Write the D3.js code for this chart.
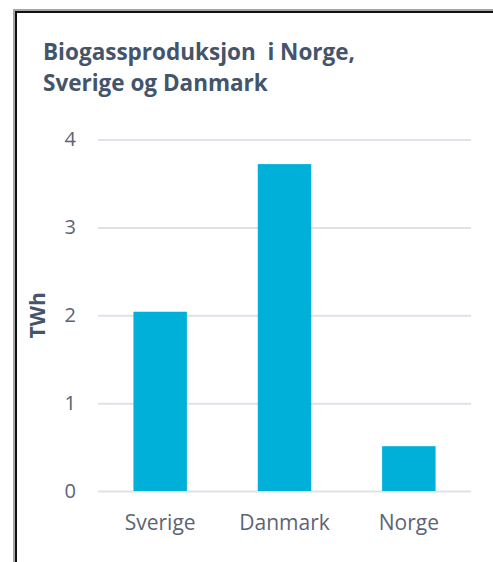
<!DOCTYPE html>
<html>
<head>
<meta charset="utf-8">
<script src="https://cdn.jsdelivr.net/npm/d3@7"></script>
<style>
body { margin: 0; background: #fff; }
svg { display: block; font-family: "Open Sans", Lato, sans-serif; }
.tick text { fill: #5b6474; }
</style>
</head>
<body>
<div id="chart"></div>
<script>
var categories = ["Sverige", "Danmark", "Norge"];
var values = [2.04, 3.72, 0.51];
var yTicks = [0, 1, 2, 3, 4];
var titleLines = ["Biogassproduksjon  i Norge,", "Sverige og Danmark"];
var yLabel = "TWh";

var W = 493, H = 562;
var margin = {top: 139.5, right: 22, bottom: 71, left: 98};

var svg = d3.select("#chart").append("svg")
    .attr("width", W)
    .attr("height", H);

// frame: grey shadow + black line on left and top
svg.append("path")
    .attr("d", "M14,562V10H493")
    .attr("fill", "none")
    .attr("stroke", "#a6a6a6")
    .attr("stroke-width", 2);
svg.append("path")
    .attr("d", "M16,562V12H493")
    .attr("fill", "none")
    .attr("stroke", "#111")
    .attr("stroke-width", 2);

var x = d3.scaleBand()
    .domain(categories)
    .range([margin.left, W - margin.right])
    .paddingInner(0.57)
    .paddingOuter(0.285);

var y = d3.scaleLinear()
    .domain([0, 4])
    .range([H - margin.bottom, margin.top]);

// gridlines + y labels
var yAxis = d3.axisLeft(y)
    .tickValues(yTicks)
    .tickSize(-(W - margin.right - margin.left))
    .tickPadding(22)
    .tickFormat(d3.format("d"));

var gy = svg.append("g")
    .attr("transform", "translate(" + margin.left + ",0)")
    .call(yAxis);
gy.select(".domain").remove();
gy.selectAll(".tick line")
    .attr("stroke", "#dde2ea")
    .attr("stroke-width", 2);
gy.selectAll(".tick text")
    .attr("font-family", "Open Sans")
    .attr("font-size", 20);

svg.append("g").selectAll("rect")
    .data(values)
    .join("rect")
    .attr("x", function(d, i) { return x(categories[i]); })
    .attr("width", x.bandwidth())
    .attr("y", function(d) { return y(d); })
    .attr("height", function(d) { return y(0) - y(d); })
    .attr("fill", "#00b0d8");

var xAxis = d3.axisBottom(x)
    .tickSize(0)
    .tickPadding(24);

var gx = svg.append("g")
    .attr("transform", "translate(0," + y(0) + ")")
    .call(xAxis);
gx.select(".domain").remove();
gx.selectAll(".tick text")
    .attr("font-family", "Open Sans")
    .attr("font-size", 21);

svg.append("text")
    .attr("transform", "translate(45," + (y(2)) + ") rotate(-90)")
    .attr("text-anchor", "middle")
    .attr("font-size", 21)
    .attr("font-weight", "bold")
    .attr("fill", "#44546a")
    .text(yLabel);

svg.append("g").selectAll("text")
    .data(titleLines)
    .join("text")
    .attr("x", 43)
    .attr("y", function(d, i) { return 60 + i * 31; })
    .attr("font-size", 22.5)
    .attr("font-weight", "bold")
    .attr("fill", "#44546a")
    .style("white-space", "pre")
    .text(function(d) { return d; });
</script>
</body>
</html>
